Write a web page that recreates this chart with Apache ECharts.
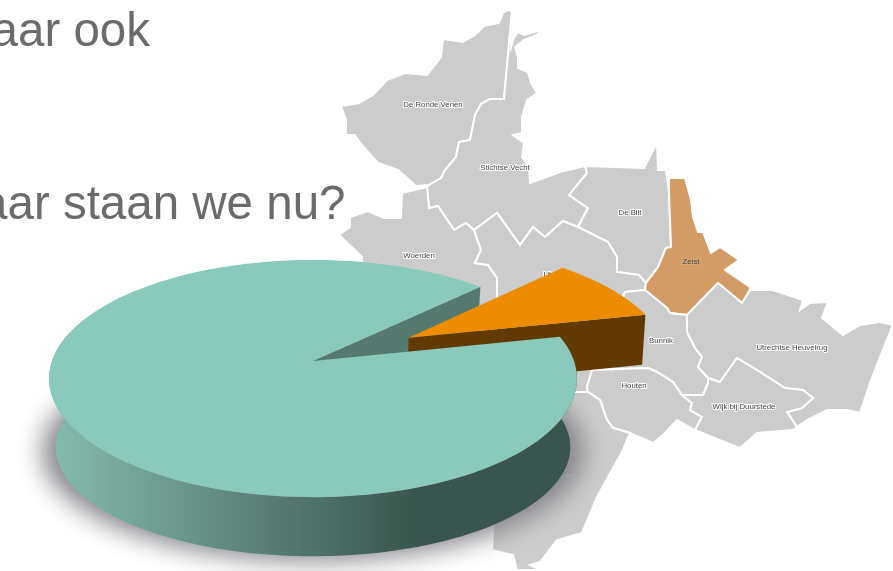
<!DOCTYPE html>
<html>
<head>
<meta charset="utf-8">
<style>
  html, body { margin: 0; padding: 0; background: #fff; }
  #main { width: 893px; height: 571px; overflow: hidden; }
</style>
<script src="https://cdn.jsdelivr.net/npm/echarts@6/dist/echarts.min.js"></script>
</head>
<body>
<div id="main"></div>
<script>
// taart: aandeel per deel
var pieNames = ['Deel', 'Rest']
var pieValues = [9, 91]
var pieColors = ['#ee8c00', '#8acabc']
var pieWallColors = ['#623a00', '#547a70']

// gemeenten op de kaart
var regionNames = ['De Ronde Venen', 'Stichtse Vecht', 'De Bilt', 'Woerden', 'Utrecht', 'Zeist', 'Bunnik', 'Houten', 'Utrechtse Heuvelrug', 'Wijk bij Duurstede', 'Vijfheerenlanden']
var regionLabelAt = [[433, 105], [505, 168], [630, 213], [419, 256], [556, 275], [691, 262], [661, 341], [634, 386], [792, 348], [744, 407], [541, 473]]
var regionOutlines = [
  [[508, 10], [512, 11], [504, 99], [490, 99], [481, 104], [475, 115], [470, 140], [459, 142], [456, 157], [445, 170], [441, 178], [429, 185], [416, 186], [398, 170], [378, 163], [360, 143], [355, 135], [346, 135], [346, 120], [341, 106], [359, 103], [373, 95], [387, 80], [405, 73], [427, 75], [441, 57], [443, 39], [463, 42], [475, 35], [484, 26], [499, 23], [503, 13]],
  [[512, 11], [511, 47], [514, 38], [518, 32], [524, 35], [544, 29], [535, 36], [524, 40], [515, 47], [518, 57], [518, 68], [528, 72], [531, 83], [537, 93], [527, 100], [522, 117], [522, 133], [513, 135], [524, 143], [522, 157], [529, 167], [530, 183], [560, 172], [585, 166], [587, 173], [569, 195], [588, 208], [578, 227], [563, 221], [545, 237], [533, 227], [520, 245], [497, 213], [474, 230], [466, 223], [454, 230], [438, 206], [429, 208], [427, 187], [429, 185], [441, 178], [445, 170], [456, 157], [459, 142], [470, 140], [475, 115], [481, 104], [490, 99], [504, 99]],
  [[585, 166], [644, 168], [657, 143], [658, 170], [666, 170], [669, 193], [671, 247], [666, 248], [658, 267], [646, 283], [639, 275], [617, 272], [617, 257], [608, 242], [578, 227], [588, 208], [569, 195], [587, 173]],
  [[402, 193], [427, 187], [429, 208], [438, 206], [454, 230], [466, 223], [474, 230], [481, 250], [475, 263], [488, 265], [497, 278], [497, 392], [362, 392], [362, 257], [339, 235], [350, 227], [350, 217], [368, 211], [384, 218], [401, 218]],
  [[474, 230], [497, 213], [520, 245], [533, 227], [545, 237], [563, 221], [578, 227], [608, 242], [617, 257], [617, 272], [639, 275], [646, 283], [645, 290], [625, 292], [592, 370], [587, 387], [588, 392], [497, 392], [497, 278], [488, 265], [475, 263], [481, 250]],
  [[669, 178], [685, 178], [691, 200], [693, 217], [698, 232], [703, 232], [711, 253], [720, 247], [739, 260], [725, 270], [750, 287], [750, 290], [742, 303], [718, 283], [687, 315], [670, 313], [667, 308], [645, 290], [646, 283], [658, 267], [666, 248], [671, 247], [669, 193]],
  [[625, 292], [645, 290], [667, 308], [670, 313], [687, 315], [687, 332], [695, 348], [702, 357], [698, 367], [708, 378], [708, 383], [703, 395], [682, 395], [673, 382], [657, 372], [648, 368], [592, 370]],
  [[592, 370], [648, 368], [657, 372], [673, 382], [682, 395], [692, 403], [690, 410], [702, 417], [695, 430], [677, 420], [663, 435], [653, 443], [630, 433], [613, 428], [607, 420], [600, 400], [588, 392], [587, 387]],
  [[687, 315], [718, 283], [742, 303], [750, 290], [773, 290], [803, 300], [800, 310], [810, 303], [828, 302], [822, 318], [843, 335], [860, 325], [880, 322], [893, 325], [880, 357], [870, 383], [860, 413], [847, 410], [827, 410], [807, 420], [797, 427], [787, 412], [802, 408], [813, 398], [803, 390], [785, 388], [760, 372], [737, 358], [720, 382], [708, 378], [698, 367], [702, 357], [695, 348], [687, 332]],
  [[703, 395], [708, 383], [708, 378], [720, 382], [737, 358], [760, 372], [785, 388], [803, 390], [813, 398], [802, 408], [787, 412], [797, 427], [793, 430], [757, 433], [740, 448], [727, 443], [695, 430], [702, 417], [690, 410], [692, 403], [682, 395]],
  [[497, 392], [588, 392], [600, 400], [607, 420], [613, 428], [630, 433], [623, 450], [597, 497], [582, 533], [557, 540], [540, 562], [530, 565], [540, 570], [517, 570], [513, 555], [492, 550], [495, 500]]
]

// tekstregels van de dia
var textLines = ['Maar ook', 'Waar staan we nu?']

// perspectief van de taart (eenheidsschijf -> scherm)
var PIE = { cx: 313, cy: 361, rx: 261, ry: 116, k: 0.148, start: 12.5, explode: 0.43 }

function topPoint(u, v) {
  var w = 1 - PIE.k * v
  return [PIE.cx + PIE.rx * u / w, PIE.cy + PIE.ry * v / w]
}
// onderrand van het grote deel
function basePoint(u, v) {
  var w = 1 - PIE.k * v
  return [PIE.cx + 0.975 * PIE.rx * u / w, PIE.cy + 70 + 0.92 * PIE.ry * v / w]
}
// onderrand van het uitgeschoven deel
function wedgeBasePoint(u, v) {
  var w = 1 - PIE.k * v
  return [PIE.cx + 0.99 * PIE.rx * u / w, PIE.cy + 12 + 39 / w + 0.975 * PIE.ry * v / w]
}
function arc(fn, ox, oy, a0, a1) {
  var pts = []
  var n = Math.max(2, Math.ceil(Math.abs(a1 - a0) / 2))
  for (var i = 0; i <= n; i++) {
    var a = (a0 + (a1 - a0) * i / n) * Math.PI / 180
    pts.push(fn(ox + Math.cos(a), oy - Math.sin(a)))
  }
  return pts
}

var total = pieValues.reduce(function (s, v) { return s + v }, 0)

function renderSlice(params, api) {
  var idx = params.dataIndex
  var sweep = api.value(0) / total * 360
  var out = []
  if (idx === 0) {
    // uitgeschoven deel
    var a0 = PIE.start
    var a1 = a0 + sweep
    var mid = (a0 + a1) / 2 * Math.PI / 180
    var ox = PIE.explode * Math.cos(mid)
    var oy = -PIE.explode * Math.sin(mid)
    var apex = topPoint(ox, oy)
    var rim = arc(topPoint, ox, oy, a0, a1)
    var corner = arc(wedgeBasePoint, ox, oy, a0, a0)[0]
    out.push({
      type: 'polygon', z2: 3,
      shape: { points: [apex, rim[0], corner, wedgeBasePoint(ox, oy)] },
      style: { fill: pieWallColors[idx] }
    })
    out.push({
      type: 'polygon', z2: 4,
      shape: { points: [apex].concat(rim) },
      style: { fill: pieColors[idx] }
    })
  } else {
    var b0 = PIE.start + pieValues[0] / total * 360
    var b1 = b0 + sweep
    var rad = b0 * Math.PI / 180
    var ex = Math.cos(rad)
    var ey = -Math.sin(rad)
    // schaduw onder de taart: vorm buiten beeld, alleen de schaduw valt erin
    var shadowPts = arc(basePoint, 0, 0, 0, 360).map(function (p) {
      return [PIE.cx + (p[0] - PIE.cx) * 1.05 - 2000, p[1] + 4]
    })
    out.push({
      type: 'polygon', z2: 1,
      shape: { points: shadowPts },
      style: { fill: '#000', shadowColor: 'rgba(130,130,136,1)', shadowBlur: 26, shadowOffsetX: 2000 }
    })
    // binnenwand bij de opening
    out.push({
      type: 'polygon', z2: 2,
      shape: { points: [topPoint(0, 0), topPoint(ex, ey), basePoint(ex, ey), basePoint(0, 0)] },
      style: { fill: pieWallColors[idx] }
    })
    // buitenwand
    var wallTop = arc(topPoint, 0, 0, 165, b1)
    var wallBase = arc(basePoint, 0, 0, 165, b1).reverse()
    out.push({
      type: 'polygon', z2: 2,
      shape: { points: wallTop.concat(wallBase) },
      style: {
        fill: new echarts.graphic.LinearGradient(0, 0, 1, 0, [
          { offset: 0, color: '#84bcae' },
          { offset: 0.7, color: '#3a554d' },
          { offset: 1, color: '#3a554d' }
        ])
      }
    })
    out.push({
      type: 'polygon', z2: 5,
      shape: { points: [topPoint(0, 0)].concat(arc(topPoint, 0, 0, b0, b1)) },
      style: { fill: pieColors[idx] }
    })
  }
  return { type: 'group', children: out }
}

var features = regionNames.map(function (name, i) {
  return {
    type: 'Feature',
    properties: { name: name, cp: [regionLabelAt[i][0], -regionLabelAt[i][1]] },
    geometry: {
      type: 'Polygon',
      coordinates: [regionOutlines[i].map(function (p) { return [p[0], -p[1]] })]
    }
  }
})
echarts.registerMap('regio', { type: 'FeatureCollection', features: features })

var myChart = echarts.init(document.getElementById('main'))
var option = {
  animation: false,
  backgroundColor: '#fff',
  graphic: [
    { type: 'text', x: -48, y: 9, z: 5, style: { text: textLines[0], font: '47.5px "Liberation Sans"', fill: '#6b6b6b' } },
    { type: 'text', x: -62, y: 182, z: 5, style: { text: textLines[1], font: '47.5px "Liberation Sans"', fill: '#6b6b6b' } }
  ],
  series: [
    {
      type: 'map',
      map: 'regio',
      silent: true,
      z: 1,
      aspectScale: 1,
      boundingCoords: [[0, 0], [893, -571]],
      layoutCenter: ['50%', '50%'],
      layoutSize: 893,
      label: {
        show: true,
        fontFamily: 'Liberation Sans',
        fontSize: 7.8,
        color: '#444',
        textBorderColor: '#fff',
        textBorderWidth: 2
      },
      itemStyle: { areaColor: '#cccccc', borderColor: '#fff', borderWidth: 2 },
      data: regionNames.map(function (name) {
        return name === 'Zeist'
          ? { name: name, itemStyle: { areaColor: '#d39c66' }, label: { textBorderColor: '#d8a878' } }
          : { name: name }
      })
    },
    {
      type: 'custom',
      coordinateSystem: 'none',
      silent: true,
      z: 3,
      renderItem: renderSlice,
      data: pieValues.map(function (v, i) { return { name: pieNames[i], value: [v] } })
    }
  ]
}
myChart.setOption(option)
window.onresize = function () {
  myChart.resize()
}
</script>
</body>
</html>
